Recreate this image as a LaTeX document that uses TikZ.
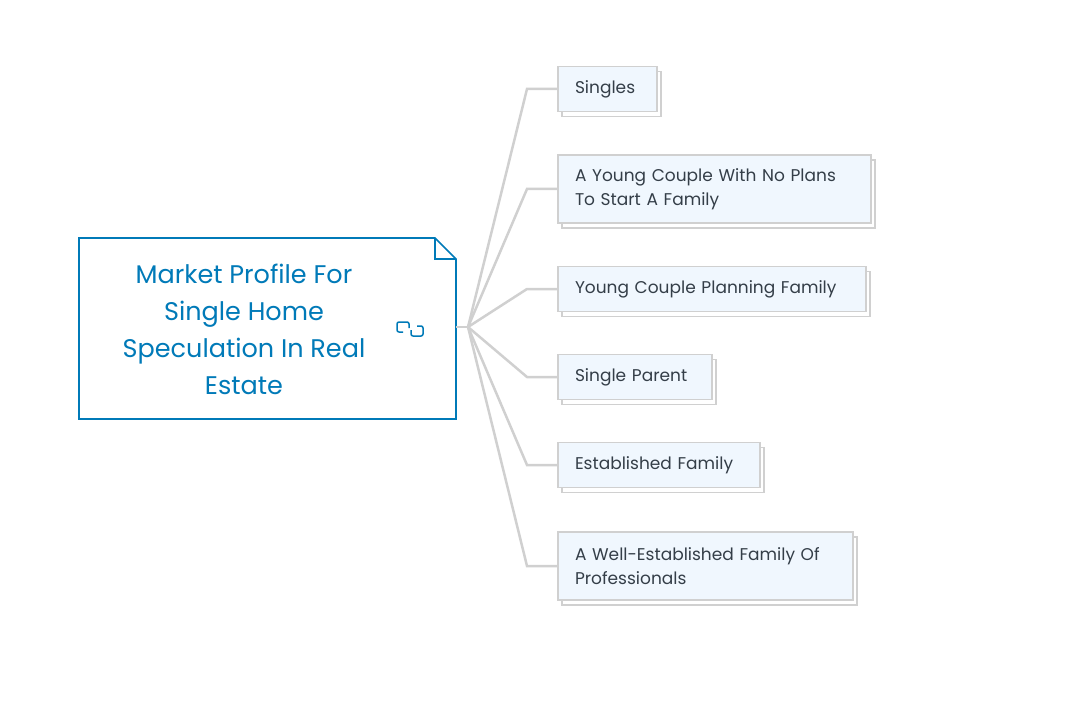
\documentclass[tikz,border=0pt]{standalone}
\usepackage{fontspec}
\setmainfont{Poppins}
\usetikzlibrary{positioning}
\definecolor{rootblue}{RGB}{0,122,184}
\definecolor{leaffill}{RGB}{240,247,254}
\definecolor{leafline}{RGB}{208,208,208}
\definecolor{leaftext}{RGB}{52,62,72}
\tikzset{
  leaf/.style={draw=leafline, line width=1.5pt, fill=leaffill, anchor=west, align=left,
    inner xsep=0pt, inner ysep=0pt, text=leaftext, font=\fontsize{17}{24}\selectfont},
  branch/.style={draw=leafline, line width=2.5pt}
}
\begin{document}
\begin{tikzpicture}[x=1pt, y=-1pt]
    \useasboundingbox (0,0) rectangle (1081,703);
    % root
    \draw[rootblue, line width=1.6pt, fill=white] (79,238) -- (435,238) -- (456,259) -- (456,419) -- (79,419) -- cycle;
    \draw[rootblue, line width=1.6pt] (435,238) -- (435,259) -- (456,259);
    \node[text=rootblue, align=center, font=\fontsize{25.5}{37}\selectfont] (root) at (244,329)
        {Market Profile For\\Single Home\\Speculation In Real\\Estate};
    \draw[rootblue, line width=1.5pt, rounded corners=2pt] (409,328) -- (409,322) -- (397,322) -- (397,332) -- (403,332);
    \draw[rootblue, line width=1.5pt, rounded corners=2pt] (411,330) -- (411,336) -- (423,336) -- (423,326) -- (417,326);
    \coordinate (hub) at (468,327);
    \draw[branch] (456,327) -- (hub);
    % leaves
    \foreach \name/\y/\w/\h/\txt in {
        singles/89/99/45/Singles,
        nofam/189/313/68/{A Young Couple With No Plans\\To Start A Family},
        planning/289/308/45/Young Couple Planning Family,
        parent/377/154/45/Single Parent,
        estab/465/202/45/Established Family,
        profs/566/295/68/{A Well-Established Family Of\\Professionals}} {
        \draw[branch] (hub) -- (527,\y) -- (557,\y);
        \draw[leafline, line width=1.5pt, fill=white] (562,\y-\h/2+5) rectangle (557+\w+5,\y+\h/2+5);
        \node[leaf, minimum width=\w pt, minimum height=\h pt, text width=\w pt-34.5pt,
              inner xsep=17pt] (\name) at (557,\y) {\txt};
    }
\end{tikzpicture}
\end{document}
